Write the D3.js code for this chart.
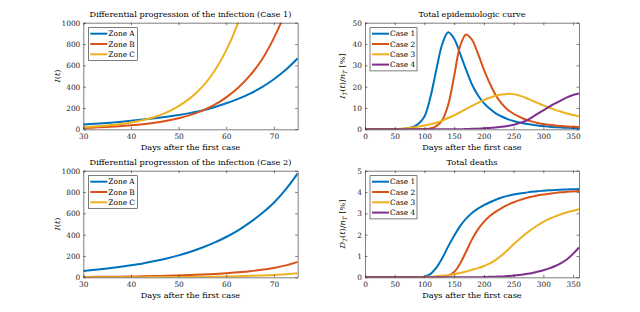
<!DOCTYPE html>
<html><head><meta charset="utf-8">
<script src="https://cdn.jsdelivr.net/npm/d3@7"></script>
<style>
html,body{margin:0;padding:0;background:#fff;}
svg{display:block;}
</style></head>
<body>
<svg id="c" width="640" height="312"></svg>
<script>
// ---------- data ----------
const zoneNames = ["Zone A","Zone B","Zone C"];
const caseNames = ["Case 1","Case 2","Case 3","Case 4"];
const colors = ["#0072BD","#D95319","#EDB120","#7E2F8E"];

const daysZone = [30,32.5,35,37.5,40,42.5,45,47.5,50,52.5,55,57.5,60,62.5,65,67.5,70,72.5,75];
// Case 1
const c1ZoneA = [45,52,60,69,80,91,104,118,134,154,177,207,244,285,335,395,469,558,666];
const c1ZoneB = [13,17,22,28,37,48,62,80,104,135,175,228,300,390,505,655,855,1110,1440];
const c1ZoneC = [19,26,35,47,64,86,116,158,218,295,400,545,740,1000,1350,1830,2480,3350,4530];
// Case 2
const c2ZoneA = [60,70,82,96,112,130,152,177,206,240,280,325,378,440,515,600,700,825,975];
const c2ZoneB = [3,4,5,6,7.5,9,11.5,14,17,21,26,31,38,47,57,71,88,112,145];
const c2ZoneC = [0.4,0.5,0.7,0.9,1.1,1.4,1.8,2.3,3,3.8,4.9,6.3,8,10.5,13.5,17.5,22.5,29,37];

const daysTot = [0,10,20,30,40,50,60,70,80,90,100,110,120,130,140,150,160,170,180,190,200,210,220,230,240,250,260,270,280,290,300,310,320,330,340,350,360];
// Total epidemiologic curve (%)
const epiCase1 = [0,0,0,0,0,0.05,0.15,0.4,1,2.6,6,15,28,40,45.5,42.5,35.5,28,21,16,12.3,9.6,7.5,6,4.8,3.9,3.2,2.6,2.2,1.8,1.5,1.2,1.0,0.85,0.7,0.6,0.5];
const epiCase2 = [0,0,0,0,0,0,0,0,0,0,0.1,0.4,1.5,4.3,11.5,25,39,44.5,42,35.5,28,21.5,16,12,9.2,7.3,5.8,4.6,3.7,3,2.5,2.1,1.8,1.5,1.3,1.2,1.1];
const epiCase3 = [0,0,0,0,0,0.1,0.3,0.55,0.85,1.25,1.75,2.35,3.1,4.1,5.3,6.6,8.0,9.5,11.0,12.4,13.7,14.8,15.7,16.3,16.6,16.5,15.8,14.8,13.6,12.4,11.2,10.1,9.1,8.2,7.4,6.7,6.1];
const epiCase4 = [0,0,0,0,0,0,0,0,0,0,0,0,0,0,0,0,0.05,0.1,0.2,0.3,0.45,0.65,0.9,1.2,1.6,2.1,2.9,3.9,5.5,7.2,8.9,10.6,12.2,13.6,15,16.1,16.8];
// Total deaths (%)
const dthCase1 = [0,0,0,0,0,0,0,0,0,0,0.03,0.15,0.45,0.9,1.45,1.95,2.4,2.75,3.02,3.22,3.38,3.52,3.64,3.74,3.82,3.88,3.93,3.97,4.01,4.04,4.06,4.08,4.1,4.11,4.12,4.13,4.14];
const dthCase2 = [0,0,0,0,0,0,0,0,0,0,0,0,0,0.02,0.08,0.25,0.65,1.2,1.78,2.25,2.6,2.87,3.08,3.25,3.4,3.52,3.62,3.71,3.78,3.84,3.88,3.92,3.96,3.99,4.01,4.03,4.05];
const dthCase3 = [0,0,0,0,0,0,0,0,0,0.01,0.02,0.03,0.05,0.07,0.1,0.14,0.2,0.27,0.35,0.43,0.53,0.65,0.82,1.03,1.28,1.55,1.8,2.03,2.24,2.43,2.6,2.74,2.86,2.96,3.05,3.12,3.19];
const dthCase4 = [0,0,0,0,0,0,0,0,0,0,0,0,0,0,0,0,0,0,0,0,0.01,0.02,0.03,0.04,0.06,0.08,0.11,0.15,0.19,0.26,0.33,0.42,0.53,0.67,0.85,1.1,1.4];

const zoneTicksX = [30,40,50,60,70];
const zoneTicksY = [0,200,400,600,800,1000];
const totTicksX = [0,50,100,150,200,250,300,350];
const epiTicksY = [0,10,20,30,40,50];
const dthTicksY = [0,1,2,3,4,5];

// ---------- drawing ----------
const svg = d3.select("#c");
const FONT = "DejaVu Serif";
const TS = "8.2px", LS = "7.4px", TK = "7.4px";
const axisColor = "#262626";
const fmt = d3.format("~g");
let clipId = 0;

function panel(o){
  const x = d3.scaleLinear().domain(o.xd).range([o.x0,o.x1]);
  const y = d3.scaleLinear().domain(o.yd).range([o.y1,o.y0]);
  const g = svg.append("g").attr("font-family",FONT);
  const id = "clip"+(clipId++);
  g.append("clipPath").attr("id",id).append("rect")
    .attr("x",o.x0).attr("y",o.y0).attr("width",o.x1-o.x0).attr("height",o.y1-o.y0);
  const tl = 2.5;
  const ax = [
    d3.axisBottom(x).tickValues(o.xt).tickSizeInner(-tl).tickSizeOuter(0).tickFormat(fmt),
    d3.axisLeft(y).tickValues(o.yt).tickSizeInner(-tl).tickSizeOuter(0).tickFormat(fmt),
    d3.axisTop(x).tickValues(o.xt).tickSizeInner(-tl).tickSizeOuter(0).tickFormat(""),
    d3.axisRight(y).tickValues(o.yt).tickSizeInner(-tl).tickSizeOuter(0).tickFormat("")
  ];
  const tr = [`translate(0,${o.y1})`,`translate(${o.x0},0)`,`translate(0,${o.y0})`,`translate(${o.x1},0)`];
  const lg = g.append("g").attr("clip-path",`url(#${id})`);
  o.series.forEach((s,i)=>{
    const line = d3.line().x((d,j)=>x(o.xs[j])).y(d=>y(d)).curve(d3.curveCatmullRom.alpha(0.5));
    lg.append("path").datum(s).attr("d",line).attr("fill","none")
      .attr("stroke",colors[i]).attr("stroke-width",2);
  });
  ax.forEach((a,i)=>{
    const ag = g.append("g").attr("transform",tr[i]).call(a)
      .attr("font-family",FONT).attr("font-size",TK);
    ag.select(".domain").attr("stroke",axisColor).attr("stroke-width",0.6);
    ag.selectAll(".tick line").attr("stroke",axisColor).attr("stroke-width",0.6);
    ag.selectAll(".tick text").attr("fill",axisColor);
    if(i===0) ag.selectAll(".tick text").attr("dy","0").attr("y",10);
    if(i===1) ag.selectAll(".tick text").attr("x",-3).attr("dy","0.33em");
  });
  g.append("text").attr("x",(o.x0+o.x1)/2).attr("y",o.y0-6).attr("text-anchor","middle")
    .attr("font-size",TS).attr("fill","#000").text(o.title);
  g.append("text").attr("x",(o.x0+o.x1)/2).attr("y",o.y1+21).attr("text-anchor","middle")
    .attr("font-size",TS).attr("fill","#000").text("Days after the first case");
  const yl = g.append("text").attr("transform",`translate(${o.ylx},${(o.y0+o.y1)/2}) rotate(-90)`)
    .attr("text-anchor","middle").attr("font-size",TS).attr("fill","#000");
  o.ylabel(yl);
  const n = o.names.length;
  const lx = o.x0+5, ly = o.y0+5, lw = o.legW, lh = 10.3*n+2;
  g.append("rect").attr("x",lx).attr("y",ly).attr("width",lw).attr("height",lh)
    .attr("fill","#fff").attr("stroke",axisColor).attr("stroke-width",0.6);
  o.names.forEach((nm,i)=>{
    const cy = ly+6+i*10.3;
    g.append("line").attr("x1",lx+2).attr("x2",lx+19).attr("y1",cy).attr("y2",cy)
      .attr("stroke",colors[i]).attr("stroke-width",2);
    g.append("text").attr("x",lx+20).attr("y",cy+2.7).attr("font-size",LS)
      .attr("fill","#000").text(nm);
  });
}

function iLabel(t){
  t.append("tspan").attr("font-style","italic").text("I");
  t.append("tspan").text("(");
  t.append("tspan").attr("font-style","italic").text("t");
  t.append("tspan").text(")");
}
function totLabel(letter){
  return function(t){
    t.append("tspan").attr("font-style","italic").text(letter);
    t.append("tspan").attr("font-style","italic").attr("font-size","5.8px").attr("dy",2).text("T");
    t.append("tspan").attr("dy",-2).text("(");
    t.append("tspan").attr("font-style","italic").text("t");
    t.append("tspan").text(")/");
    t.append("tspan").attr("font-style","italic").text("n");
    t.append("tspan").attr("font-style","italic").attr("font-size","5.8px").attr("dy",2).text("T");
    t.append("tspan").attr("dy",-2).text(" [%]");
  };
}

const L = {x0:83.3,x1:297.7}, R = {x0:365,x1:579};
const T = {y0:22.7,y1:129.3}, B = {y0:170.7,y1:277.3};

panel({...L,...T,xd:[30,75],yd:[0,1000],xt:zoneTicksX,yt:zoneTicksY,xs:daysZone,
  series:[c1ZoneA,c1ZoneB,c1ZoneC],names:zoneNames,legW:49,ylx:60,ylabel:iLabel,
  title:"Differential progression of the infection (Case 1)"});
panel({...R,...T,xd:[0,360],yd:[0,50],xt:totTicksX,yt:epiTicksY,xs:daysTot,
  series:[epiCase1,epiCase2,epiCase3,epiCase4],names:caseNames,legW:47,ylx:345,ylabel:totLabel("I"),
  title:"Total epidemiologic curve"});
panel({...L,...B,xd:[30,75],yd:[0,1000],xt:zoneTicksX,yt:zoneTicksY,xs:daysZone,
  series:[c2ZoneA,c2ZoneB,c2ZoneC],names:zoneNames,legW:49,ylx:60,ylabel:iLabel,
  title:"Differential progression of the infection (Case 2)"});
panel({...R,...B,xd:[0,360],yd:[0,5],xt:totTicksX,yt:dthTicksY,xs:daysTot,
  series:[dthCase1,dthCase2,dthCase3,dthCase4],names:caseNames,legW:47,ylx:345,ylabel:totLabel("D"),
  title:"Total deaths"});
</script>
</body></html>
